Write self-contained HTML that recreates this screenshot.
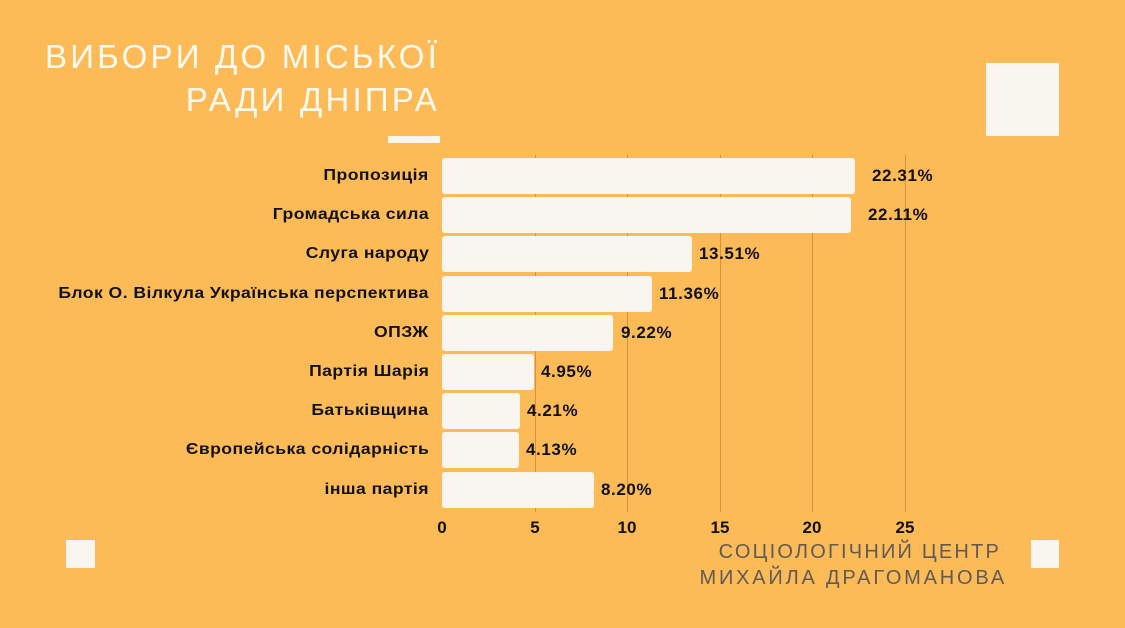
<!DOCTYPE html>
<html><head><meta charset="utf-8"><style>
body{margin:0}
#c{position:relative;width:1125px;height:628px;background:#fdbb57;overflow:hidden;font-family:"Liberation Sans",sans-serif}
.t{position:absolute;color:#fffaf0;font-size:33px;letter-spacing:3.2px;white-space:nowrap}
.sq{position:absolute;background:#f8f6ef}
.lab{position:absolute;right:696px;font-weight:bold;font-size:16px;letter-spacing:0.4px;transform-origin:right center;color:#111;white-space:nowrap;transform:translateY(-50%) scaleX(1.1)}
.bar{position:absolute;left:442px;height:36px;background:#f8f6ef;border-radius:3px;transform:translateY(-50%)}
.val{position:absolute;font-weight:bold;font-size:17px;letter-spacing:0.6px;color:#111;transform:translateY(-50%)}
.g{position:absolute;top:155px;height:357px;width:1px;background:#d9923a}
.tk{position:absolute;top:518px;font-weight:bold;font-size:17px;color:#111;transform:translateX(-50%)}
.f{position:absolute;right:118px;color:#5f5a55;font-size:20px;letter-spacing:3px;white-space:nowrap}
</style></head><body><div id="c">
<div class="t" style="left:45px;top:38px">ВИБОРИ ДО МІСЬКОЇ</div>
<div class="t" style="right:685px;top:81px">РАДИ ДНІПРА</div>
<div class="sq" style="left:388px;top:136px;width:52px;height:7px"></div>
<div class="sq" style="left:986px;top:63px;width:73px;height:73px"></div>
<div class="sq" style="left:66px;top:540px;width:29px;height:28px"></div>
<div class="sq" style="left:1031px;top:540px;width:28px;height:28px"></div>
<div class="g" style="left:535px"></div><div class="g" style="left:627px"></div><div class="g" style="left:720px"></div><div class="g" style="left:812px"></div><div class="g" style="left:905px"></div>
<div class="tk" style="left:442px">0</div><div class="tk" style="left:535px">5</div><div class="tk" style="left:627px">10</div><div class="tk" style="left:720px">15</div><div class="tk" style="left:812px">20</div><div class="tk" style="left:905px">25</div>
<div class="lab" style="top:176px">Пропозиція</div><div class="bar" style="top:176px;width:413px"></div><div class="val" style="top:176px;left:872px">22.31%</div>
<div class="lab" style="top:215px">Громадська сила</div><div class="bar" style="top:215px;width:409px"></div><div class="val" style="top:215px;left:868px">22.11%</div>
<div class="lab" style="top:254px">Слуга народу</div><div class="bar" style="top:254px;width:250px"></div><div class="val" style="top:254px;left:699px">13.51%</div>
<div class="lab" style="top:294px">Блок О. Вілкула Українська перспектива</div><div class="bar" style="top:294px;width:210px"></div><div class="val" style="top:294px;left:659px">11.36%</div>
<div class="lab" style="top:333px">ОПЗЖ</div><div class="bar" style="top:333px;width:171px"></div><div class="val" style="top:333px;left:621px">9.22%</div>
<div class="lab" style="top:372px">Партія Шарія</div><div class="bar" style="top:372px;width:92px"></div><div class="val" style="top:372px;left:541px">4.95%</div>
<div class="lab" style="top:411px">Батьківщина</div><div class="bar" style="top:411px;width:78px"></div><div class="val" style="top:411px;left:527px">4.21%</div>
<div class="lab" style="top:450px">Європейська солідарність</div><div class="bar" style="top:450px;width:77px"></div><div class="val" style="top:450px;left:526px">4.13%</div>
<div class="lab" style="top:490px">інша партія</div><div class="bar" style="top:490px;width:152px"></div><div class="val" style="top:490px;left:601px">8.20%</div>
<div class="f" style="top:541px;right:124px;letter-spacing:2.2px">СОЦІОЛОГІЧНИЙ ЦЕНТР</div>
<div class="f" style="top:567px;letter-spacing:2.8px">МИХАЙЛА ДРАГОМАНОВА</div>
</div></body></html>
